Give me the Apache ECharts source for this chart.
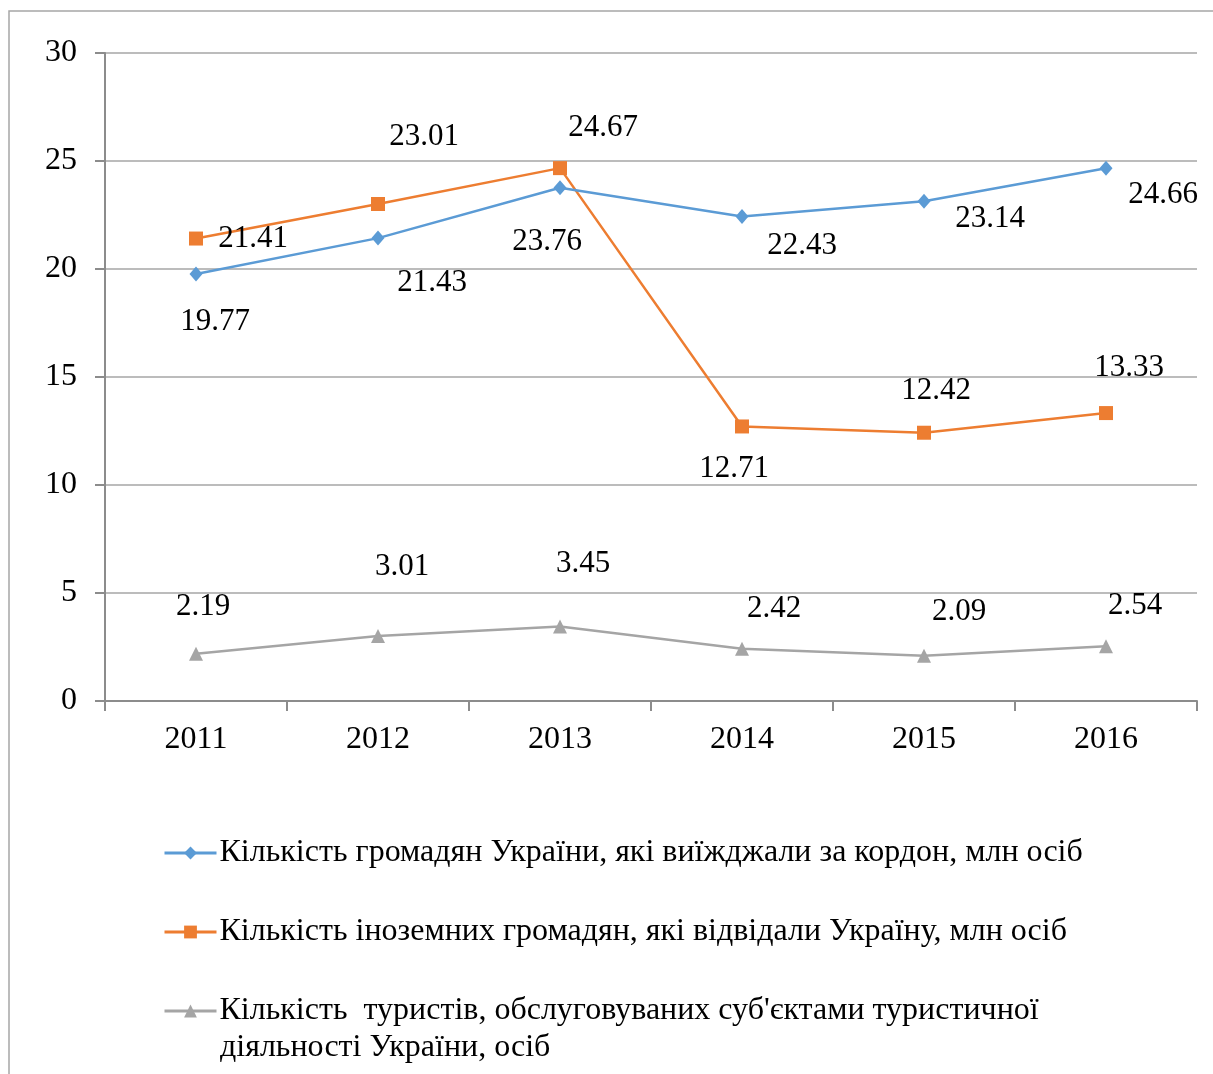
<!DOCTYPE html>
<html><head><meta charset="utf-8">
<script src="https://cdn.jsdelivr.net/npm/echarts@6/dist/echarts.min.js"></script>
<style>html,body{margin:0;padding:0;background:#fff}#c{width:1213px;height:1074px}</style>
</head><body><div id="c"></div>
<script>
const years = ['2011','2012','2013','2014','2015','2016'];
const citizensAbroad = [19.77, 21.43, 23.76, 22.43, 23.14, 24.66];
const foreignVisitors = [21.41, 23.01, 24.67, 12.71, 12.42, 13.33];
const tourists = [2.19, 3.01, 3.45, 2.42, 2.09, 2.54];
const names = [
  'Кількість громадян України, які виїжджали за кордон, млн осіб',
  'Кількість іноземних громадян, які відвідали Україну, млн осіб',
  "Кількість  туристів, обслуговуваних суб'єктами туристичної діяльності України, осіб"
];

const FONT = '"Liberation Serif","Times New Roman",serif';
function mk(vals, offs) {
  return vals.map((v, i) => ({ value: v, label: { offset: offs[i] } }));
}
const chart = echarts.init(document.getElementById('c'), null, { renderer: 'canvas' });
const labelBase = { show: true, position: 'inside', color: '#000', fontFamily: FONT, fontSize: 31 };
chart.setOption({
  animation: false,
  backgroundColor: '#fff',
  grid: { left: 105, top: 53, right: 16, bottom: 373, containLabel: false },
  xAxis: {
    type: 'category', data: years, boundaryGap: true,
    axisLine: { lineStyle: { color: '#8c8c8c', width: 2 } },
    axisTick: { show: true, length: 10, lineStyle: { color: '#8c8c8c', width: 2 } },
    axisLabel: { color: '#000', fontFamily: FONT, fontSize: 32, margin: 23 }
  },
  yAxis: {
    type: 'value', min: 0, max: 30, interval: 5,
    axisLine: { show: true, lineStyle: { color: '#8c8c8c', width: 2 } },
    axisTick: { show: true, length: 10, lineStyle: { color: '#8c8c8c', width: 2 } },
    splitLine: { lineStyle: { color: '#a6a6a6', width: 1.5 } },
    axisLabel: { color: '#000', fontFamily: FONT, fontSize: 32, margin: 28 }
  },
  legend: {
    orient: 'vertical', left: 158, top: 832, itemGap: 47,
    itemWidth: 52, itemHeight: 16,
    lineStyle: { width: 3 },
    textStyle: { color: '#000', fontFamily: FONT, fontSize: 32, padding: [0, 0, 0, -2] },
    formatter: function (n) { return n === names[2] ? "Кількість  туристів, обслуговуваних суб'єктами туристичної" : n; },
    data: names
  },
  graphic: [
    { type: 'rect', shape: { x: 9, y: 11, width: 1400, height: 1300 }, style: { fill: 'none', stroke: '#a6a6a6', lineWidth: 1.5 }, silent: true },
    { type: 'text', left: 220, top: 1032, style: { text: 'діяльності України, осіб', font: '32px ' + FONT, fill: '#000' } }
  ],
  series: [
    {
      name: names[0], type: 'line', data: mk(citizensAbroad, [[19,48],[54,45],[-13,54],[60,29],[66,18],[57,27]]),
      color: '#5B9BD5', symbol: 'diamond', symbolSize: [13, 15], lineStyle: { width: 2.5 },
      label: labelBase, z: 3
    },
    {
      name: names[1], type: 'line', data: mk(foreignVisitors, [[57,0],[46,-67],[43,-40],[-8,42],[12,-42],[23,-45]]),
      color: '#ED7D31', symbol: 'rect', symbolSize: 14, lineStyle: { width: 2.5 },
      label: labelBase, z: 2
    },
    {
      name: names[2], type: 'line', data: mk(tourists, [[7,-47],[24,-69],[23,-63],[32,-40],[35,-44],[29,-40]]),
      color: '#A5A5A5', symbol: 'triangle', symbolSize: 14, lineStyle: { width: 2.5 },
      label: labelBase, z: 1
    }
  ]
});
</script></body></html>
